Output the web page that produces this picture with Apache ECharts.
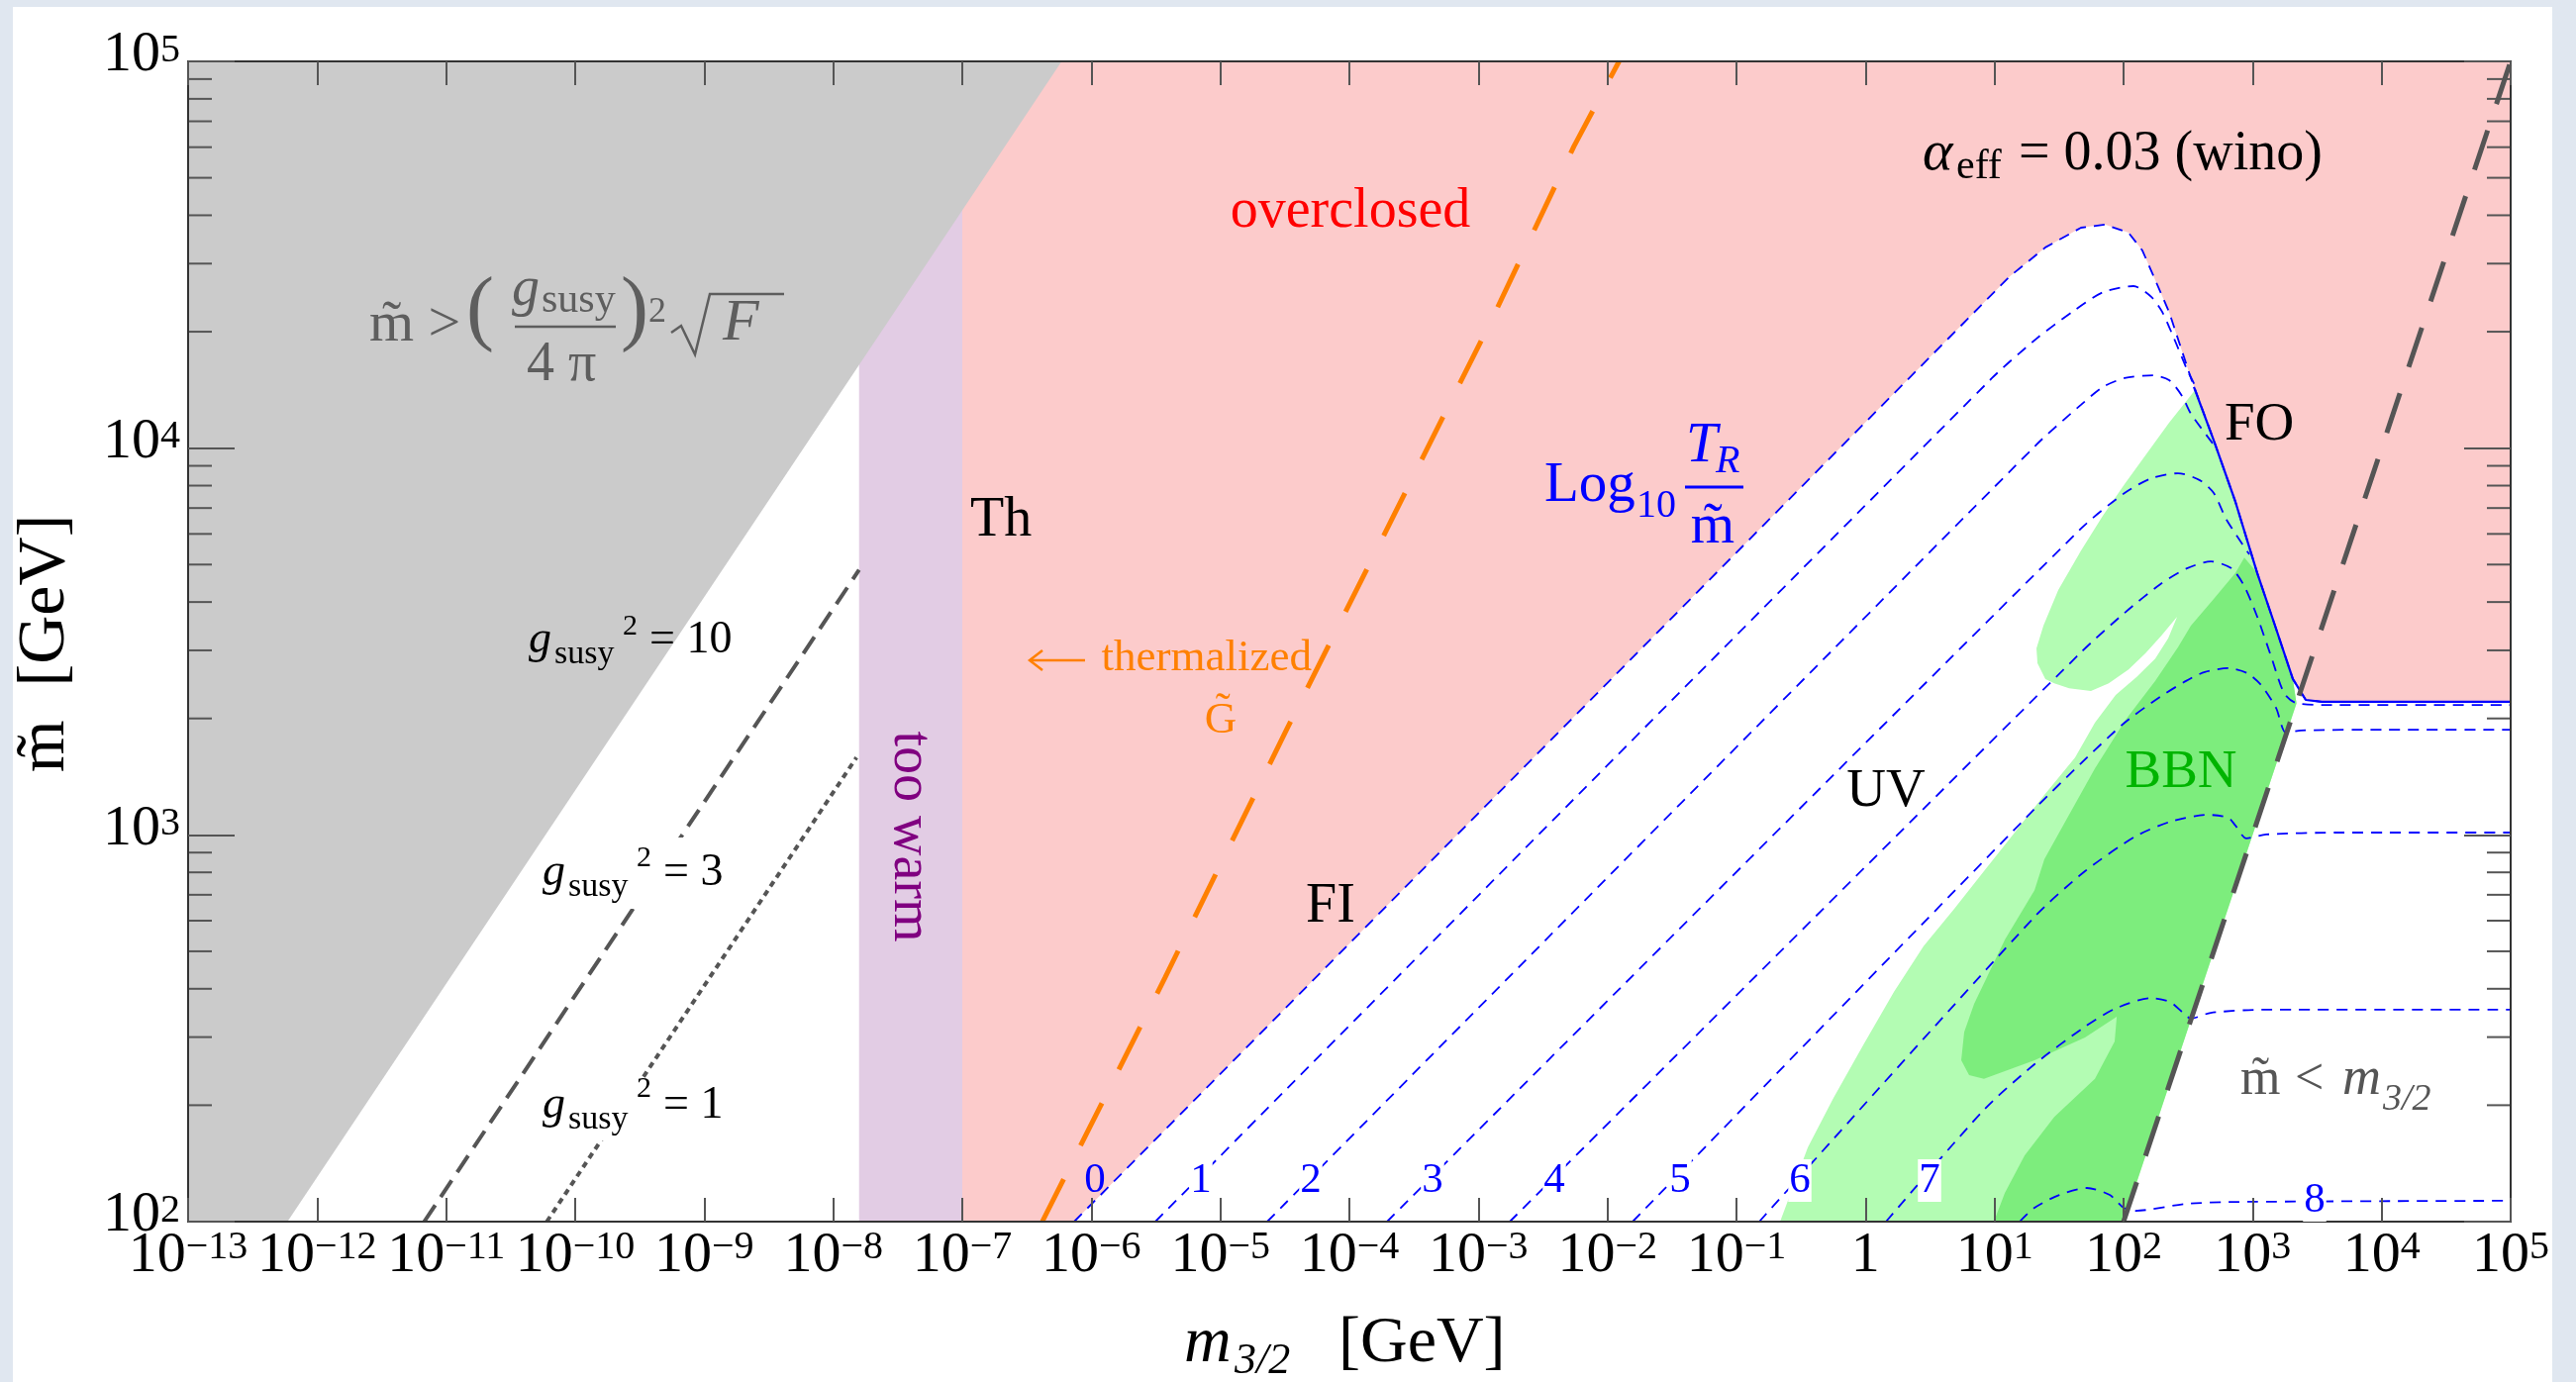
<!DOCTYPE html>
<html>
<head>
<meta charset="utf-8">
<title>Gravitino parameter space</title>
<script src="https://cdn.jsdelivr.net/npm/echarts@6/dist/echarts.min.js"></script>
<style>
  html, body { margin:0; padding:0; width:2602px; height:1396px; overflow:hidden; background:#e0e7f0; }
  #sheet { position:absolute; left:13px; top:7px; width:2565px; height:1389px; background:#ffffff; }
  #chart { position:absolute; left:0; top:0; width:2602px; height:1396px; }
</style>
</head>
<body>
<div id="sheet"></div>
<div id="chart"></div>
<script>
const FONT = '"Liberation Serif", "Times New Roman", serif';

// decades shown on the axes (exponents of ten, in GeV)
const xTickExps = [-13, -12, -11, -10, -9, -8, -7, -6, -5, -4, -3, -2, -1, 0, 1, 2, 3, 4, 5];
const yTickExps = [2, 3, 4, 5];
const yMinorMantissas = [2, 3, 4, 5, 6, 7, 8, 9];

// every point below is [log10(m3/2 / GeV), log10(m~ / GeV)]
const susyBoundRegion = [[-13, 2], [-12.23, 2], [-6.23, 5], [-13, 5]];
const tooWarmBand = [[-7.80, 2], [-7.00, 2], [-7.00, 5], [-7.80, 5]];
const gSusy3Line = [[-11.17, 2], [-7.80, 3.685]];
const gSusy1Line = [[-10.22, 2], [-7.82, 3.20]];
const thermalizedLine = [[-6.38, 2.00], [-5.43, 2.63], [-4.49, 3.27], [-3.68, 3.81], [-2.90, 4.33], [-2.26, 4.78], [-1.91, 5.00]];
const massEqualLine = [[2, 2], [5, 5]];

// contours of log10(T_R / m~); level 0 is the freeze-in / freeze-out edge
const tr0 = [[-6.133, 2.000], [1.118, 4.444], [1.394, 4.519], [1.670, 4.570], [1.855, 4.578], [2.039, 4.557], [2.146, 4.511], [2.353, 4.352], [2.522, 4.181], [2.699, 4.020], [2.867, 3.861], [3.036, 3.677], [3.174, 3.541], [3.312, 3.403], [3.412, 3.349], [3.535, 3.344], [5.000, 3.344]];
const tr1 = [[-5.504, 2.000], [0.980, 4.181], [1.325, 4.283], [1.601, 4.352], [1.839, 4.403], [2.077, 4.419], [2.215, 4.391], [2.300, 4.352], [2.392, 4.283], [2.491, 4.204], [2.560, 4.158]];
const tr2 = [[-4.637, 2.000], [1.325, 4.009], [1.670, 4.112], [1.839, 4.158], [2.008, 4.181], [2.230, 4.188], [2.353, 4.176], [2.453, 4.135], [2.522, 4.089], [2.714, 4.002]];
const tr3 = [[-3.708, 2.000], [1.670, 3.792], [2.008, 3.884], [2.215, 3.922], [2.422, 3.935], [2.591, 3.917], [2.699, 3.884], [2.798, 3.815], [2.975, 3.725]];
const tr4 = [[-2.757, 2.000], [1.670, 3.472], [2.008, 3.574], [2.284, 3.648], [2.491, 3.689], [2.676, 3.707], [2.837, 3.689], [2.936, 3.643], [3.036, 3.564], [3.144, 3.461], [3.243, 3.367], [3.330, 3.342], [3.535, 3.336], [5.000, 3.336]];
const tr5 = [[-1.805, 2.000], [1.325, 3.072], [1.670, 3.185], [2.008, 3.290], [2.284, 3.357], [2.484, 3.398], [2.629, 3.421], [2.814, 3.431], [2.959, 3.418], [3.067, 3.387], [3.182, 3.328], [3.259, 3.264], [3.374, 3.270], [4.041, 3.272], [5.000, 3.272]];
const tr6 = [[-0.823, 2.000], [1.310, 2.788], [1.701, 2.906], [2.092, 2.996], [2.361, 3.034], [2.652, 3.052], [2.814, 3.044], [2.867, 3.024], [2.952, 2.991], [3.105, 3.001], [3.650, 3.006], [5.000, 3.006]];
const tr7 = [[0.159, 2.000], [0.918, 2.289], [1.310, 2.407], [1.701, 2.504], [1.931, 2.550], [2.207, 2.578], [2.361, 2.568], [2.461, 2.540], [2.522, 2.525], [2.676, 2.540], [3.067, 2.548], [5.000, 2.548]];
const tr8 = [[1.195, 2.000], [1.310, 2.036], [1.502, 2.069], [1.716, 2.087], [1.893, 2.069], [2.000, 2.036], [2.092, 2.028], [2.484, 2.046], [2.867, 2.051], [5.000, 2.054]];
const foLine = [[2.545, 4.158], [2.699, 4.020], [2.867, 3.861], [3.036, 3.677], [3.174, 3.541], [3.312, 3.403], [3.412, 3.349], [3.535, 3.344], [5.000, 3.344]];

// BBN-excluded areas
const lightGreenRegion = [[2.560, 4.153], [2.699, 4.020], [2.867, 3.861], [3.036, 3.677], [3.174, 3.541], [3.312, 3.403], [3.340, 3.340], [2.000, 2.000], [-0.662, 2.000], [-0.447, 2.192], [-0.248, 2.320], [-0.018, 2.456], [0.220, 2.594], [0.450, 2.712], [0.688, 2.809], [0.918, 2.906], [1.156, 3.006], [1.386, 3.103], [1.624, 3.200], [1.778, 3.290], [1.939, 3.362], [2.100, 3.408], [2.246, 3.456], [2.346, 3.508], [2.415, 3.564], [2.292, 3.515], [2.169, 3.469], [2.039, 3.428], [1.885, 3.392], [1.747, 3.372], [1.578, 3.379], [1.463, 3.392], [1.394, 3.403], [1.333, 3.444], [1.325, 3.482], [1.379, 3.541], [1.494, 3.633], [1.670, 3.735], [1.839, 3.825], [2.008, 3.907], [2.353, 4.066]];
const darkGreenRegion = [[2.936, 3.717], [3.036, 3.677], [3.174, 3.541], [3.312, 3.403], [3.340, 3.340], [2.000, 2.000], [0.995, 2.000], [1.080, 2.074], [1.233, 2.171], [1.463, 2.271], [1.778, 2.369], [1.931, 2.466], [1.947, 2.530], [1.701, 2.476], [1.310, 2.417], [0.918, 2.369], [0.803, 2.379], [0.742, 2.417], [0.765, 2.490], [0.842, 2.563], [1.080, 2.729], [1.310, 2.857], [1.386, 2.937], [1.548, 3.034], [1.778, 3.172], [2.016, 3.298], [2.246, 3.398], [2.422, 3.485], [2.522, 3.541], [2.699, 3.610], [2.867, 3.677]];

const overclosedRegion = [[-7, 2]].concat(tr0, [[5, 5], [-7, 5]]);
const trContours = [tr0, tr1, tr2, tr3, tr4, tr5, tr6, tr7, tr8];

const X_MIN = xTickExps[0], X_MAX = xTickExps[xTickExps.length - 1];
const Y_MIN = yTickExps[0], Y_MAX = yTickExps[yTickExps.length - 1];

const BLUE = '#0000ff';
const FRAME = '#555555';

function areaSeries(name, pts, color, z) {
  return {
    name, type: 'custom', coordinateSystem: 'cartesian2d', z, silent: true, clip: true,
    data: pts, encode: { x: 0, y: 1 },
    renderItem: (params, api) => params.dataIndex !== 0 ? null : {
      type: 'polygon', shape: { points: pts.map(p => api.coord(p)) }, style: { fill: color }
    }
  };
}
function curveSeries(name, pts, color, width, dash, z, smooth) {
  return {
    name, type: 'line', data: pts, z, silent: true, symbol: 'none', showSymbol: false,
    smooth: smooth || false, clip: true,
    lineStyle: { color, width, type: dash, cap: 'butt' }
  };
}

const yMinorTicks = [];
yTickExps.slice(0, -1).forEach(e => yMinorMantissas.forEach(m => yMinorTicks.push([X_MIN, e + Math.log10(m)])));

const series = [
  areaSeries('overclosed', overclosedRegion, '#fccbcb', 1),
  areaSeries('too warm', tooWarmBand, '#e2cce4', 1),
  areaSeries('susy bound', susyBoundRegion, '#cbcbcb', 2),
  areaSeries('BBN weak', lightGreenRegion, '#b3fcb3', 3),
  areaSeries('BBN strong', darkGreenRegion, '#7ded7d', 4)
];
trContours.forEach((c, i) => series.push(curveSeries('log TR/m ' + i, c, BLUE, 1.8, [11, 8], 5, i === 0 ? false : 0.25)));
series.push(curveSeries('FO', foLine, BLUE, 2.2, 'solid', 6));
series.push(curveSeries('g2=3', gSusy3Line, FRAME, 4, [20, 10], 7));
series.push(curveSeries('g2=1', gSusy1Line, FRAME, 4, [6, 5], 7));
series.push(curveSeries('thermalized', thermalizedLine, '#ff8000', 5, [48, 38], 7));
series.push(curveSeries('m=m32', massEqualLine, FRAME, 5, [42, 28], 7));
series.push({
  name: 'minor ticks', type: 'custom', coordinateSystem: 'cartesian2d', z: 20, silent: true,
  data: yMinorTicks, encode: { x: 0, y: 1 },
  renderItem: (params, api) => {
    const v = api.value(1);
    const L = api.coord([X_MIN, v]), R = api.coord([X_MAX, v]);
    return { type: 'group', children: [
      { type: 'line', shape: { x1: L[0], y1: L[1], x2: L[0] + 24, y2: L[1] }, style: { stroke: FRAME, lineWidth: 2 } },
      { type: 'line', shape: { x1: R[0] - 24, y1: R[1], x2: R[0], y2: R[1] }, style: { stroke: FRAME, lineWidth: 2 } }
    ] };
  }
});

function expLabel(v) {
  const e = Math.round(v);
  if (e === 0) return '{one|1}';
  return '{b|10}{s|' + (e < 0 ? '\u2212' + (-e) : e) + '}';
}
const xRich = {
  b: { fontFamily: FONT, fontSize: 58, lineHeight: 70, verticalAlign: 'top', color: '#000' },
  s: { fontFamily: FONT, fontSize: 40, lineHeight: 40, verticalAlign: 'top', color: '#000' },
  one: { fontFamily: FONT, fontSize: 58, lineHeight: 50, verticalAlign: 'top', color: '#000' }
};
const yRich = {
  b: { fontFamily: FONT, fontSize: 58, lineHeight: 70, verticalAlign: 'top', color: '#000' },
  s: { fontFamily: FONT, fontSize: 40, lineHeight: 40, padding: [4, 0, 0, 0], verticalAlign: 'top', color: '#000' }
};

function frameAxis(extra) {
  return Object.assign({
    type: 'value', z: 30, splitLine: { show: false },
    axisLine: { show: true, onZero: false, lineStyle: { color: '#333', width: 2 } }
  }, extra);
}

function txt(str, x, base, size, color, opt) {
  opt = opt || {};
  const style = {
    text: str, fill: color,
    font: (opt.italic ? 'italic ' : '') + size + 'px ' + FONT,
    textAlign: opt.align || 'left', textVerticalAlign: 'middle'
  };
  if (opt.bg) { style.backgroundColor = opt.bg; style.padding = opt.pad || [0, 1]; }
  return { type: 'text', z: 100, x, y: base - 0.34 * size, style };
}
function rtxt(str, cx, cy, size, color, rotation) {
  return { type: 'text', z: 100, x: cx, y: cy, rotation,
    style: { text: str, fill: color, font: size + 'px ' + FONT, textAlign: 'center', textVerticalAlign: 'middle' } };
}
function seg(x1, y1, x2, y2, color, w) {
  return { type: 'line', z: 100, shape: { x1, y1, x2, y2 }, style: { stroke: color, lineWidth: w } };
}
function path(points, color, w) {
  return { type: 'polyline', z: 100, shape: { points }, style: { stroke: color, lineWidth: w, fill: null, lineJoin: 'miter' } };
}
function box(x, y, w, h) {
  return { type: 'rect', z: 99, shape: { x, y, width: w, height: h }, style: { fill: '#ffffff' } };
}

const GT = '#5e5e5e';
const ORANGE = '#ff8000';
const graphics = [
  // axis titles
  txt('m', 1196, 1380, 66, '#000', { italic: true }),
  txt('3/2', 1247, 1390, 44, '#000', { italic: true }),
  txt('[GeV]', 1352, 1380, 66, '#000'),
  rtxt('m\u0303  [GeV]', 46, 650, 68, '#000', Math.PI / 2),

  // naturalness bound
  txt('m\u0303 >', 373, 348, 58, GT),
  txt('(', 471, 344, 84, GT),
  txt('g', 517, 312, 56, GT, { italic: true }),
  txt('susy', 547, 318, 42, GT),
  seg(520, 330, 622, 330, GT, 2.5),
  txt('4 \u03c0', 532, 388, 56, GT),
  txt(')', 627, 344, 84, GT),
  txt('2', 655, 328, 36, GT),
  path([[678, 336], [688, 329], [702, 358], [717, 297], [792, 297]], GT, 2.5),
  txt('F', 730, 348, 60, GT, { italic: true }),

  // coupling labels
  txt('g', 534, 663, 46, '#000', { italic: true }),
  txt('susy', 560, 673, 34, '#000'),
  txt('2', 629, 643, 30, '#000'),
  txt('= 10', 656, 663, 46, '#000'),
  box(600, 846, 150, 72),
  txt('g', 548, 898, 46, '#000', { italic: true }),
  txt('susy', 574, 908, 34, '#000'),
  txt('2', 643, 877, 30, '#000'),
  txt('= 3', 670, 898, 46, '#000'),
  box(600, 1092, 150, 60),
  txt('g', 548, 1133, 46, '#000', { italic: true }),
  txt('susy', 574, 1143, 34, '#000'),
  txt('2', 643, 1110, 30, '#000'),
  txt('= 1', 670, 1133, 46, '#000'),

  // region labels
  txt('Th', 980, 545, 56, '#000'),
  rtxt('too warm', 919, 845, 56, '#800080', -Math.PI / 2),
  txt('overclosed', 1364, 233, 56, '#ff0000', { align: 'center' }),
  seg(1040, 667, 1096, 667, ORANGE, 2.5),
  path([[1053, 657], [1040, 667], [1053, 677]], ORANGE, 2.5),
  txt('thermalized', 1325, 680, 45, ORANGE, { align: 'right' }),
  txt('G\u0303', 1233, 743, 45, ORANGE, { align: 'center' }),
  txt('Log', 1560, 510, 57, BLUE),
  txt('10', 1653, 525, 40, BLUE),
  txt('T', 1703, 470, 57, BLUE, { italic: true }),
  txt('R', 1733, 480, 40, BLUE, { italic: true }),
  seg(1702, 492, 1761, 492, BLUE, 3),
  txt('m\u0303', 1730, 552, 57, BLUE, { align: 'center' }),
  txt('FI', 1319, 935, 56, '#000'),
  txt('UV', 1905, 818, 55, '#000', { align: 'center' }),
  txt('BBN', 2203, 799, 55, '#00b400', { align: 'center' }),
  txt('FO', 2247, 448, 55, '#000'),
  txt('\u03b1', 1942, 175, 58, '#000', { italic: true }),
  txt('eff', 1976, 183, 42, '#000'),
  txt('= 0.03 (wino)', 2039, 175, 56, '#000'),
  txt('m\u0303', 2263, 1109, 52, '#555'),
  txt('<', 2318, 1109, 52, '#555'),
  txt('m', 2366, 1109, 54, '#555', { italic: true }),
  txt('3/2', 2407, 1124, 38, '#555', { italic: true }),

  // contour levels
  txt('0', 1106, 1207, 43, BLUE, { align: 'center' }),
  txt('1', 1213, 1207, 43, BLUE, { align: 'center', bg: '#fff' }),
  txt('2', 1324, 1207, 43, BLUE, { align: 'center', bg: '#fff' }),
  txt('3', 1447, 1207, 43, BLUE, { align: 'center', bg: '#fff' }),
  txt('4', 1570, 1207, 43, BLUE, { align: 'center', bg: '#fff' }),
  txt('5', 1697, 1207, 43, BLUE, { align: 'center', bg: '#fff' }),
  txt('6', 1818, 1207, 43, BLUE, { align: 'center', bg: '#fff' }),
  txt('7', 1949, 1207, 43, BLUE, { align: 'center', bg: '#fff' }),
  txt('8', 2338, 1227, 43, BLUE, { align: 'center', bg: '#fff' })
];

const chart = echarts.init(document.getElementById('chart'), null, { renderer: 'canvas', width: 2602, height: 1396 });
chart.setOption({
  animation: false,
  backgroundColor: 'transparent',
  grid: { left: 190, right: 66, top: 62, bottom: 162, containLabel: false },
  xAxis: [
    frameAxis({ position: 'bottom', min: X_MIN, max: X_MAX, interval: 1,
      axisTick: { show: true, inside: true, length: 24, lineStyle: { color: FRAME, width: 2 } },
      axisLabel: { show: true, margin: 6, interval: 0, hideOverlap: false, showMinLabel: true, showMaxLabel: true,
        formatter: expLabel, rich: xRich } }),
    frameAxis({ position: 'top', min: X_MIN, max: X_MAX, interval: 1,
      axisTick: { show: true, inside: true, length: 24, lineStyle: { color: FRAME, width: 2 } },
      axisLabel: { show: false } })
  ],
  yAxis: [
    frameAxis({ position: 'left', min: Y_MIN, max: Y_MAX, interval: 1,
      axisTick: { show: true, inside: true, length: 47, lineStyle: { color: FRAME, width: 2 } },
      axisLabel: { show: true, margin: 8, showMinLabel: true, showMaxLabel: true, formatter: expLabel, rich: yRich } }),
    frameAxis({ position: 'right', min: Y_MIN, max: Y_MAX, interval: 1,
      axisTick: { show: true, inside: true, length: 47, lineStyle: { color: FRAME, width: 2 } },
      axisLabel: { show: false } })
  ],
  series,
  graphic: graphics
});
</script>
</body>
</html>
